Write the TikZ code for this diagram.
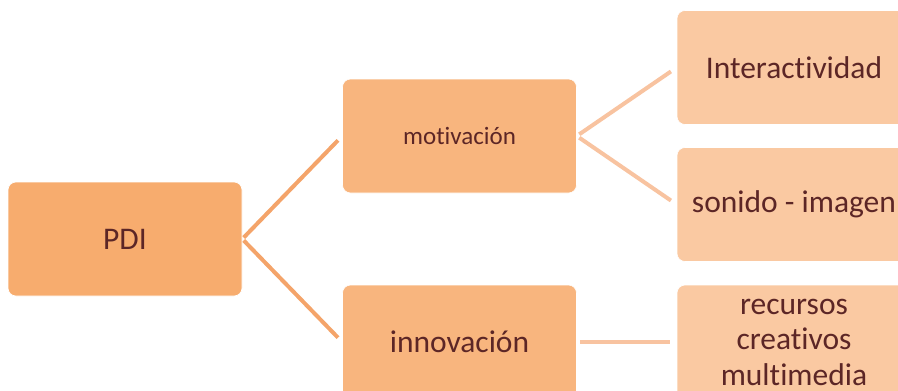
\documentclass[tikz,border=0pt]{standalone}
\usepackage{fontspec}
\setmainfont[Ligatures={NoCommon,NoRare,NoContextual}]{Carlito}
\definecolor{boxA}{HTML}{F7AC6E}
\definecolor{boxB}{HTML}{F8B57E}
\definecolor{boxC}{HTML}{FAC9A2}
\definecolor{txt}{HTML}{5C2626}
\definecolor{lineA}{HTML}{F4A46A}
\definecolor{lineB}{HTML}{F8C3A0}
\begin{document}
\begin{tikzpicture}[x=1pt,y=-1pt,
  box/.style={draw=white,line width=0.6pt,rounded corners=8pt,minimum width=234pt,minimum height=114pt,text=txt,align=center,inner sep=0pt,font=\fontsize{31.5}{35.5}\selectfont},
  conA/.style={draw=lineA,line width=4pt},
  conB/.style={draw=lineB,line width=4pt}]
\useasboundingbox (0,0) rectangle (898,391);
\node[box,fill=boxA] (pdi) at (125,239) {PDI};
\node[box,fill=boxB,font=\fontsize{25}{30}\selectfont] (mot) at (459.5,136) {motivación};
\node[box,fill=boxB] (inn) at (459.5,342) {innovación};
\node[box,fill=boxC] (int) at (794,67.5) {Interactividad};
\node[box,fill=boxC] (son) at (794,204.5) {sonido - imagen};
\node[box,fill=boxC] (rec) at (794,342) {recursos\\creativos\\multimedia};
\draw[conA,shorten <=2pt,shorten >=6pt] (pdi.east) -- (mot.west);
\draw[conA,shorten <=2pt,shorten >=6pt] (pdi.east) -- (inn.west);
\draw[conB,shorten <=3pt,shorten >=7pt] (mot.east) -- (int.west);
\draw[conB,shorten <=3pt,shorten >=7pt] (mot.east) -- (son.west);
\draw[conB,shorten <=3pt,shorten >=7pt] (inn.east) -- (rec.west);
\end{tikzpicture}
\end{document}
